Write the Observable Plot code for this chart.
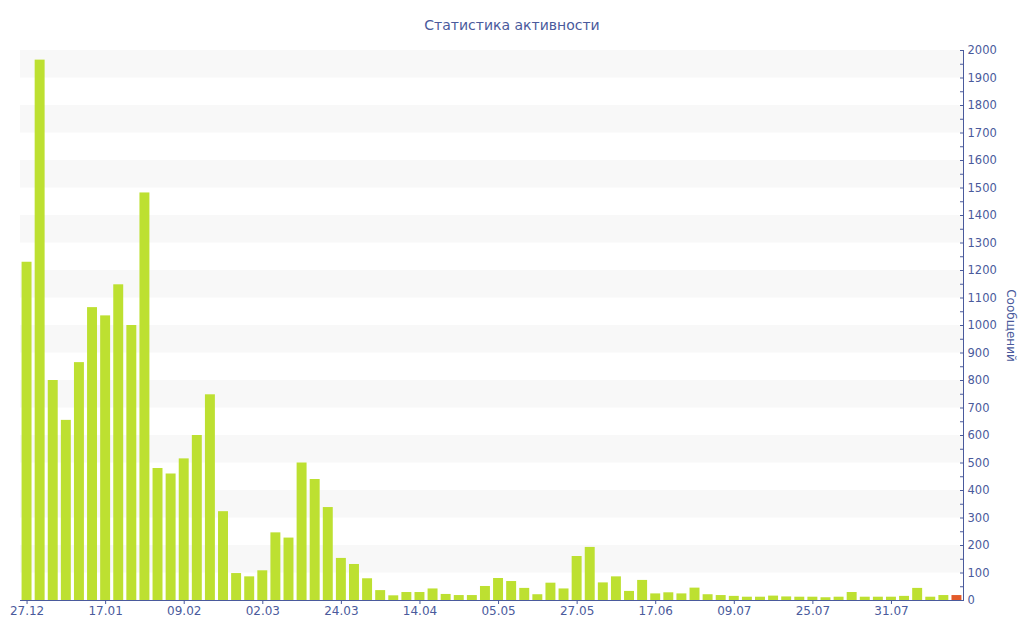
<!DOCTYPE html>
<html><head><meta charset="utf-8">
<script src="https://cdn.jsdelivr.net/npm/d3@7"></script>
<script src="https://cdn.jsdelivr.net/npm/@observablehq/plot@0.6"></script>
<style>
body{margin:0;background:#fff;font-family:"DejaVu Sans",sans-serif;}
#title{height:40px;box-sizing:border-box;padding-top:17px;text-align:center;font-size:14px;color:#4a5a9c;line-height:17px;}
</style></head><body>
<div id="title">Статистика активности</div>
<div id="chart"></div>
<script>
const values = [1230,1965,800,655,865,1065,1035,1148,1000,1482,
  480,460,515,600,748,323,98,86,108,246,
  227,500,440,338,153,131,79,36,17,29,
  29,42,22,18,18,51,80,69,44,21,
  63,42,160,193,64,86,33,73,24,28,
  24,45,21,18,15,12,12,16,13,12,
  12,10,12,29,12,12,12,15,44,12,
  18,18];
const tickLabels = ["27.12","17.01","09.02","02.03","24.03","14.04","05.05","27.05","17.06","09.07","25.07","31.07"];
const tickEvery = 6;
const currentIndex = values.length - 1;
const yMajor = d3.range(0, 2001, 100);
const yMinor = d3.range(50, 2000, 100);
const bandStarts = d3.range(100, 2000, 200);
const yLabel = "Сообщений";

const data = values.map((v, i) => ({i, v}));
const blue = "#4a5a9c";

const chart = Plot.plot({
  width: 1024, height: 600,
  marginTop: 10, marginBottom: 40, marginLeft: 20, marginRight: 61,
  style: {fontFamily: "DejaVu Sans", fontSize: "12px", color: blue, background: "#fff"},
  x: {type: "band", domain: d3.range(values.length), paddingInner: 0.24, paddingOuter: 0.12, round: false, axis: null},
  y: {domain: [0, 2000], axis: null},
  marks: [
    Plot.rect(bandStarts, {y1: d => d, y2: d => d + 100, fill: "#f8f8f8"}),
    Plot.barY(data, {x: "i", y: "v", fill: d => d.i === currentIndex ? "#e35b2a" : "#bde031"}),
    Plot.axisX({ticks: d3.range(0, values.length, tickEvery), tickFormat: i => tickLabels[i / tickEvery], tickSize: 4, tickPadding: 2, stroke: blue, fill: blue, fontSize: 12, label: null}),
    Plot.axisY({anchor: "right", ticks: yMajor, tickFormat: d3.format("d"), tickSize: -4, tickPadding: 8, stroke: blue, fill: blue, fontSize: 11.5, label: null}),
    Plot.axisY({anchor: "right", ticks: yMinor, tickSize: -4, tickFormat: () => "", stroke: blue, label: null}),
    Plot.frame({anchor: "bottom", stroke: blue}),
    Plot.frame({anchor: "right", stroke: blue}),
    Plot.text([yLabel], {frameAnchor: "right", textAnchor: "middle", rotate: 90, dx: 47, text: d => d, fill: blue, fontSize: 12})
  ]
});
document.getElementById("chart").appendChild(chart);
</script>
</body></html>
